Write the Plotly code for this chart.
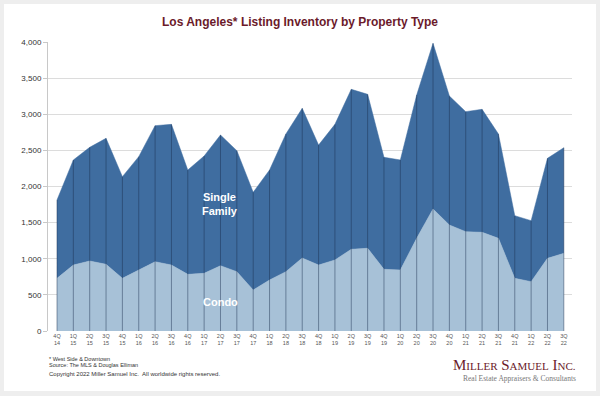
import plotly.graph_objects as go

quarters = ["4Q 14", "1Q 15", "2Q 15", "3Q 15", "4Q 15", "1Q 16", "2Q 16", "3Q 16",
            "4Q 16", "1Q 17", "2Q 17", "3Q 17", "4Q 17", "1Q 18", "2Q 18", "3Q 18",
            "4Q 18", "1Q 19", "2Q 19", "3Q 19", "4Q 19", "1Q 20", "2Q 20", "3Q 20",
            "4Q 20", "1Q 21", "2Q 21", "3Q 21", "4Q 21", "1Q 22", "2Q 22", "3Q 22"]

condo = [729, 913, 969, 923, 729, 844, 959, 913, 784, 798, 904, 821, 567, 706, 821, 1010,
         913, 983, 1131, 1145, 854, 844, 1283, 1689, 1467, 1375, 1366, 1283, 729, 683, 1006, 1075]

total = [1813, 2367, 2542, 2667, 2136, 2413, 2842, 2860, 2228, 2422, 2713, 2496, 1920, 2228,
         2727, 3082, 2574, 2860, 3345, 3276, 2404, 2367, 3266, 3982, 3252, 3036, 3068, 2727,
         1596, 1527, 2390, 2537]

single_family = [t - c for t, c in zip(total, condo)]

y_ticks = [0, 500, 1000, 1500, 2000, 2500, 3000, 3500, 4000]

xi = list(range(len(quarters)))
tick_text = [q.replace(" ", "<br>") for q in quarters]

FONT = "Liberation Sans, Arial, sans-serif"
SERIF = "Liberation Serif, Times New Roman, serif"
MAROON = "#6b1a2a"

fig = go.Figure()
fig.add_trace(go.Scatter(x=xi, y=condo, name="Condo", stackgroup="one", mode="lines",
                         line=dict(width=0.5, color="#a7c1d7"), fillcolor="#a7c1d7"))
fig.add_trace(go.Scatter(x=xi, y=single_family, name="Single Family", stackgroup="one",
                         mode="lines", line=dict(width=0.5, color="#3f6da0"),
                         fillcolor="#3f6da0"))

# drop lines at each quarter, from zero to the stacked total
vx, vy = [], []
for x, t in zip(xi, total):
    vx += [x, x, None]
    vy += [0, t, None]
fig.add_trace(go.Scatter(x=vx, y=vy, mode="lines", hoverinfo="skip",
                         line=dict(width=1, color="rgba(25,45,75,0.45)")))

L, R, T, B = 48, 28, 42, 65
PW, PH = 600 - L - R, 396 - T - B


def px(x):
    return (x - L) / PW


def py(y):
    return (396 - B - y) / PH


fig.add_shape(type="rect", xref="paper", yref="paper", x0=px(4), x1=px(596),
              y0=py(391), y1=py(4), fillcolor="white", line=dict(width=0), layer="below")

ann = [
    dict(text="<b>Single<br>Family</b>", x=10, y=1760, xref="x", yref="y",
         font=dict(color="white", size=11, family=FONT)),
    dict(text="<b>Condo</b>", x=10, y=400, xref="x", yref="y",
         font=dict(color="white", size=11, family=FONT)),
    dict(text="* West Side & Downtown", x=px(47), y=py(358.5), xanchor="left",
         font=dict(size=5.5, color="#333", family=FONT)),
    dict(text="Source: The MLS & Douglas Elliman", x=px(47), y=py(364.5), xanchor="left",
         font=dict(size=5.5, color="#333", family=FONT)),
    dict(text="Copyright 2022 Miller Samuel Inc.  All worldwide rights reserved.", x=px(47),
         y=py(374), xanchor="left", font=dict(size=6, color="#333", family=FONT)),
    dict(text=("M<span style='font-size:11px'>ILLER</span> S<span style='font-size:11px'>AMUEL</span>"
               " I<span style='font-size:11px'>NC.</span>"), x=px(578), y=py(365),
         xanchor="right", font=dict(size=15, color=MAROON, family=SERIF)),
    dict(text="Real Estate Appraisers & Consultants", x=px(578), y=py(378), xanchor="right",
         font=dict(size=7.5, color="#777", family=SERIF)),
]
for a in ann:
    a.setdefault("xref", "paper")
    a.setdefault("yref", "paper")
    a["showarrow"] = False
    a.setdefault("yanchor", "middle")

fig.update_layout(
    width=600, height=396,
    margin=dict(l=L, r=R, t=T, b=B),
    paper_bgcolor="#eeeeee", plot_bgcolor="white",
    showlegend=False,
    title=dict(text="<b>Los Angeles* Listing Inventory by Property Type</b>",
               x=0.5, xanchor="center", y=1 - 22 / 396, yanchor="middle",
               font=dict(size=12, color=MAROON, family=FONT)),
    annotations=ann,
    xaxis=dict(range=[-0.55, 31.5], tickvals=xi, ticktext=tick_text, showgrid=False,
               zeroline=False, showline=False, ticks="",
               tickfont=dict(size=5.5, color="#555", family=FONT)),
    yaxis=dict(range=[0, 4000], tickvals=y_ticks, tickformat=",", showgrid=True,
               gridcolor="#dcdcdc", gridwidth=1, zeroline=False, showline=True,
               linecolor="#c8c8c8", linewidth=1, ticks="outside", ticklen=4,
               tickcolor="#c8c8c8", tickfont=dict(size=8, color="#333", family=FONT)),
)

fig.write_html("out.html", config={"displayModeBar": False},
               post_script="document.body.style.margin='0';")
